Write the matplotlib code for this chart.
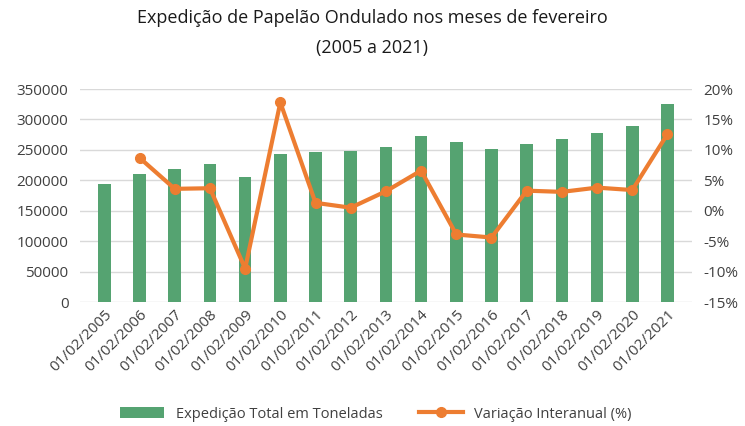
import numpy as np
import matplotlib.pyplot as plt
from matplotlib.ticker import FuncFormatter

plt.rcParams['font.family'] = ['Open Sans', 'DejaVu Sans']

datas = ['01/02/%d' % a for a in range(2005, 2022)]
expedicao = [194000, 210500, 218000, 227500, 206000, 243000, 246000, 247500,
             255500, 272500, 263000, 251000, 260500, 267500, 278500, 289500, 325000]
variacao = [np.nan, 8.7, 3.6, 3.7, -9.5, 17.8, 1.3, 0.5,
            3.2, 6.6, -3.9, -4.4, 3.3, 3.1, 3.8, 3.4, 12.6]

verde = '#55A371'
laranja = '#ED7D31'
cinza = '#404040'

fig = plt.figure(figsize=(7.45, 4.26), dpi=100)
ax = fig.add_axes([0.107, 0.291, 0.822, 0.500])
x = np.arange(len(datas))
b = ax.bar(x, expedicao, width=0.36, color=verde, zorder=2, label='Expedição Total em Toneladas')
ax.set_ylim(0, 350000)
ax.set_yticks(range(0, 350001, 50000))
ax.set_xlim(-0.7, len(datas) - 0.3)
ax.yaxis.grid(True, color='#D9D9D9', lw=1, zorder=0)
for s in ax.spines.values():
    s.set_visible(False)
ax.tick_params(length=0, colors=cinza, labelsize=11)
ax.tick_params(axis='y', pad=8)
ax.set_xticks(x)
ax.set_xticklabels(datas, rotation=45, ha='right', rotation_mode='anchor')

ax2 = ax.twinx()
l, = ax2.plot(x, variacao, color=laranja, lw=3, marker='o', ms=7, zorder=3,
              label='Variação Interanual (%)')
ax2.set_ylim(-15, 20)
ax2.set_yticks(range(-15, 21, 5))
ax2.yaxis.set_major_formatter(FuncFormatter(lambda v, p: '%d%%' % v))
for s in ax2.spines.values():
    s.set_visible(False)
ax2.tick_params(length=0, colors=cinza, labelsize=11, pad=8)

fig.text(0.5, 0.957, 'Expedição de Papelão Ondulado nos meses de fevereiro', ha='center',
         va='center', fontsize=13, color='#1a1a1a')
fig.text(0.5, 0.887, '(2005 a 2021)', ha='center', va='center', fontsize=13, color='#1a1a1a')

fig.legend([b, l], [b.get_label(), l.get_label()], loc='center', bbox_to_anchor=(0.505, 0.028),
           ncol=2, frameon=False, fontsize=10.5, labelcolor=cinza, handlelength=3,
           columnspacing=2.5, handletextpad=0.8)

fig.savefig('out.png', dpi=100)
